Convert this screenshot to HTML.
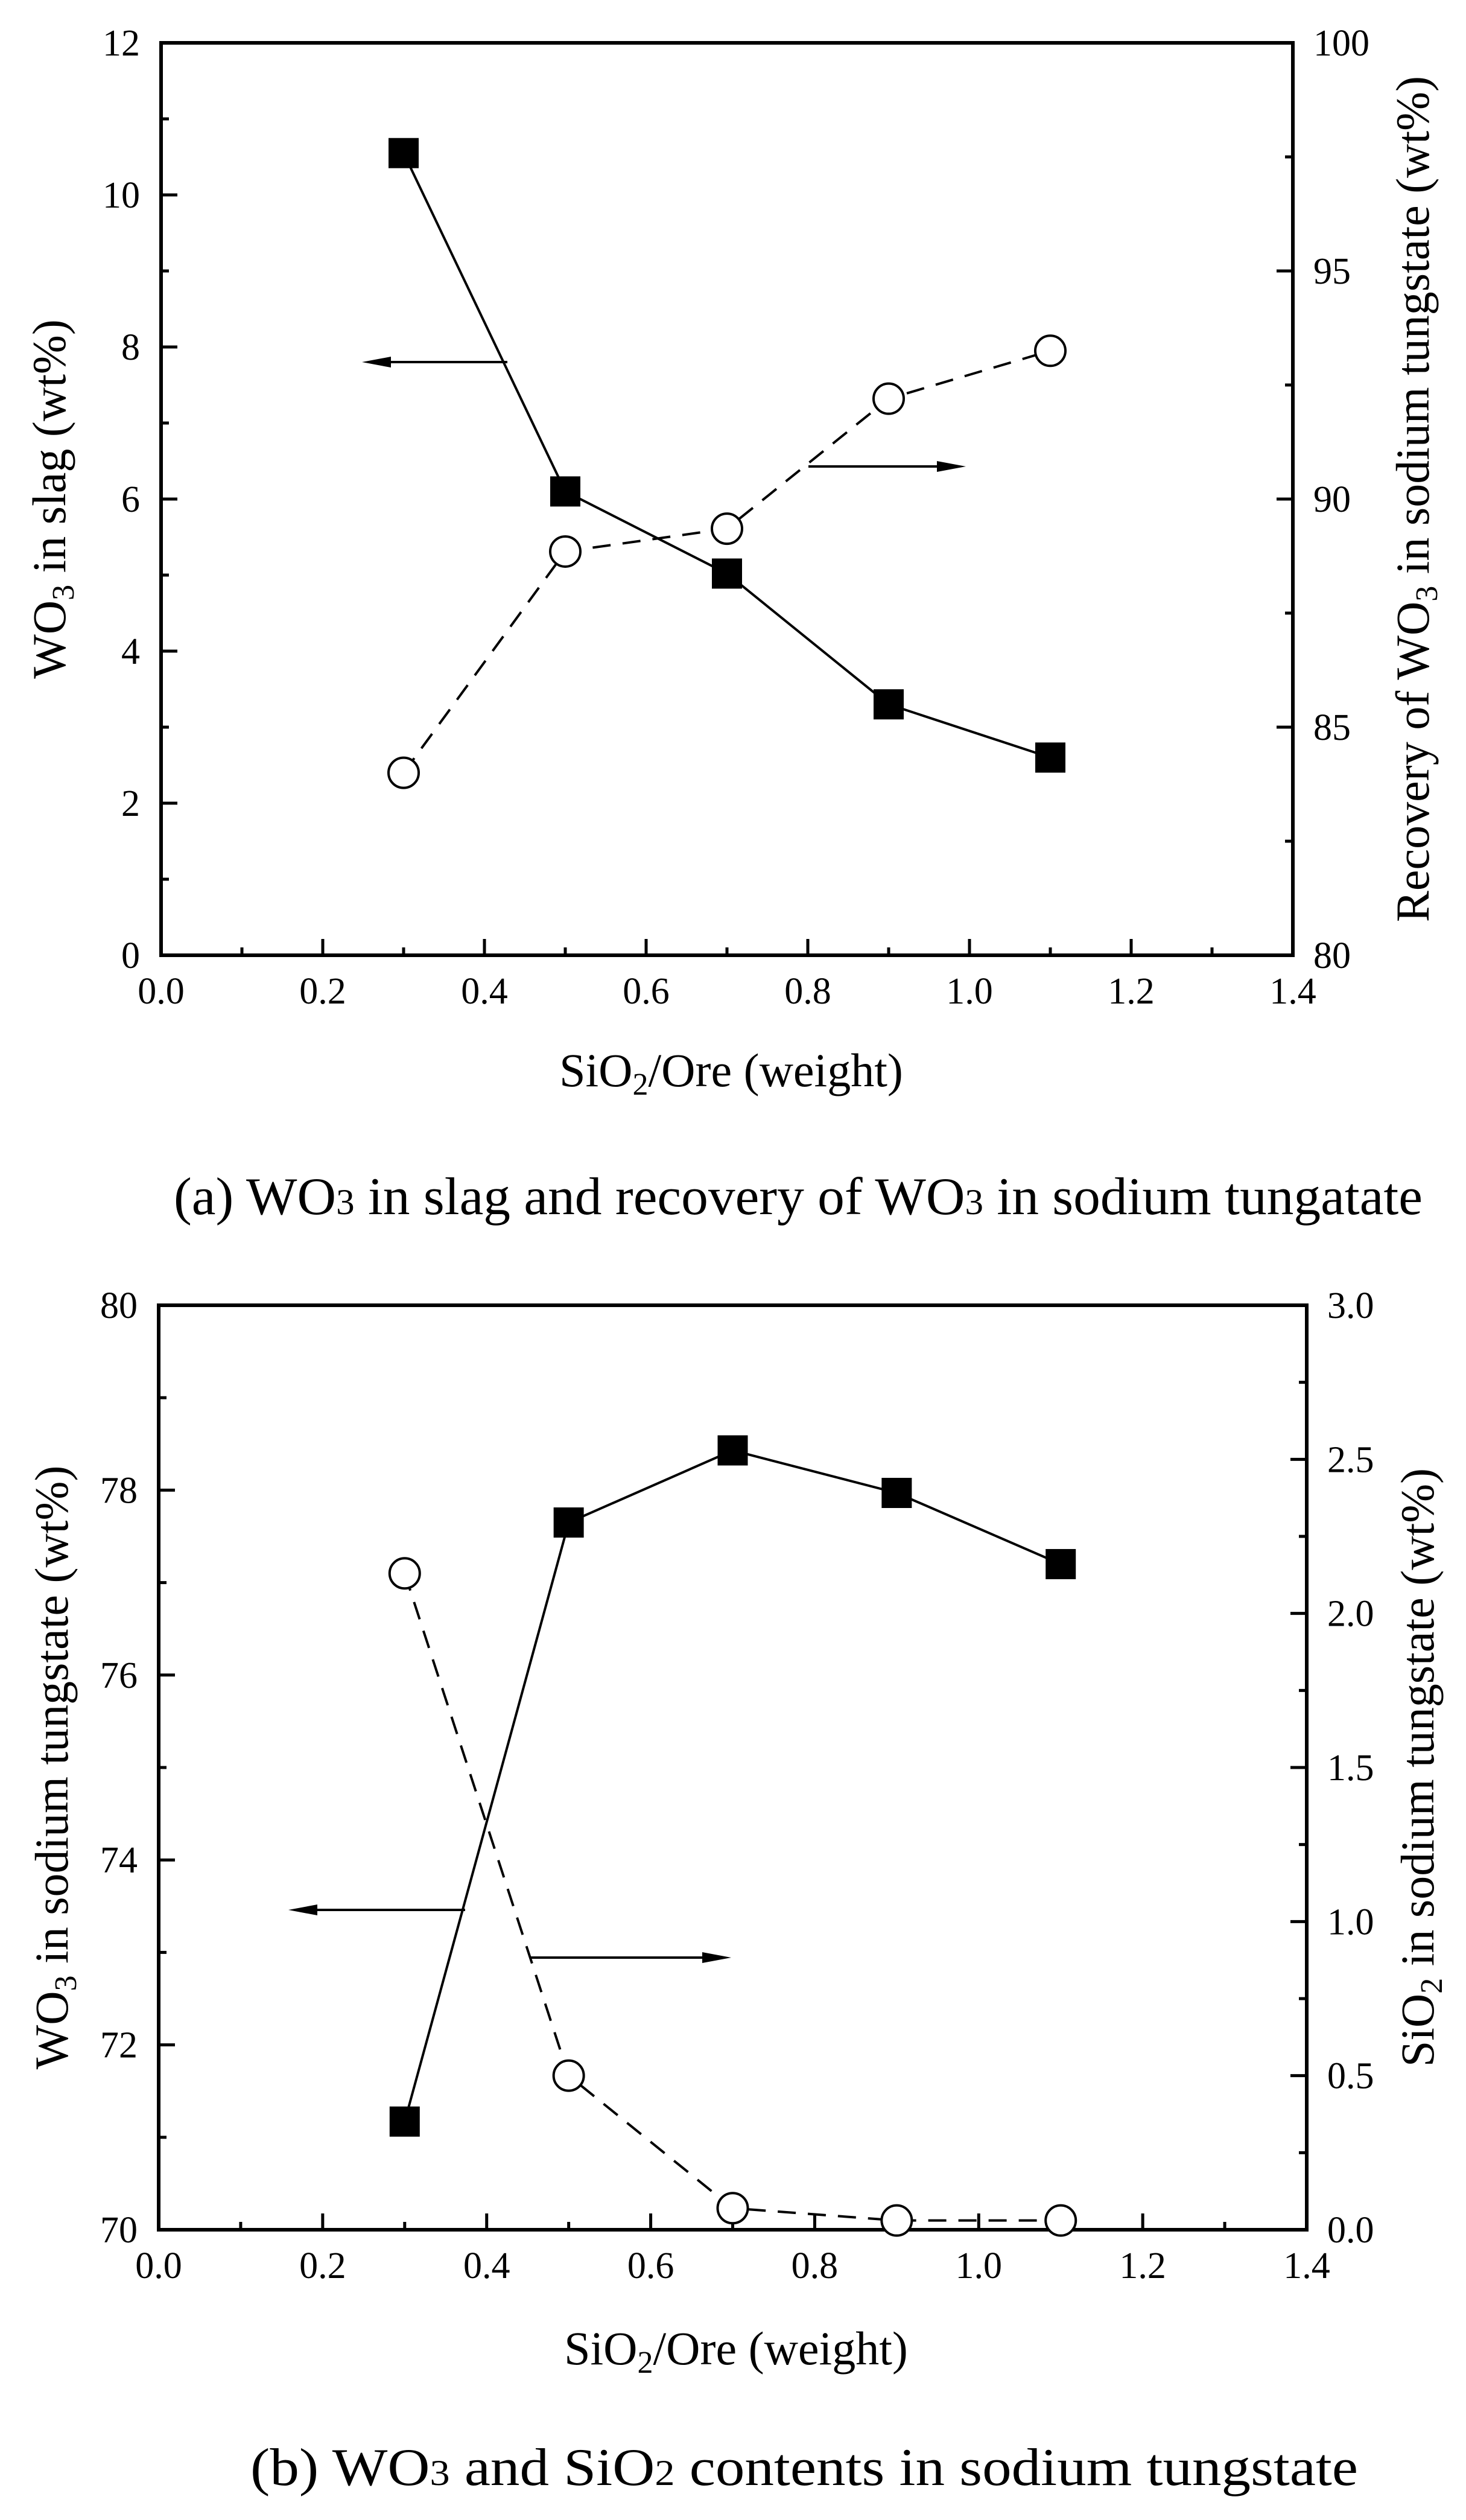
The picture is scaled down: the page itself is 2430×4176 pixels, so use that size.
<!DOCTYPE html>
<html><head><meta charset="utf-8"><style>
html,body{margin:0;padding:0;background:#fff;}
svg{display:block;font-family:"Liberation Serif",serif;}
</style></head><body>
<svg id="fig" width="2430" height="4176" viewBox="0 0 2430 4176" xmlns="http://www.w3.org/2000/svg">
<rect x="0" y="0" width="2430" height="4176" fill="#fff"/>
<text x="288" y="2012" font-size="88" textLength="2070" lengthAdjust="spacingAndGlyphs">(a)  WO<tspan font-size="60">3</tspan> in slag and recovery of WO<tspan font-size="60">3</tspan> in sodium tungatate</text>
<text x="415" y="4118" font-size="88" textLength="1836" lengthAdjust="spacingAndGlyphs">(b)  WO<tspan font-size="60">3</tspan> and SiO<tspan font-size="60">2</tspan> contents in sodium tungstate</text>
</svg>
<script>
// ---- Chart (a) data ----
const xValsA = [0.3, 0.5, 0.7, 0.9, 1.1];
const slagWO3 = [10.55, 6.1, 5.02, 3.3, 2.6];
const recoveryWO3 = [84.0, 88.85, 89.35, 92.2, 93.25];
const xTicksA = ["0.0","0.2","0.4","0.6","0.8","1.0","1.2","1.4"];
const yLeftTicksA = ["0","2","4","6","8","10","12"];
const yRightTicksA = ["80","85","90","95","100"];
// ---- Chart (b) data ----
const xValsB = [0.3, 0.5, 0.7, 0.9, 1.1];
const tungstateWO3 = [71.17, 77.65, 78.43, 77.97, 77.2];
const tungstateSiO2 = [2.13, 0.5, 0.07, 0.03, 0.03];
const xTicksB = ["0.0","0.2","0.4","0.6","0.8","1.0","1.2","1.4"];
const yLeftTicksB = ["70","72","74","76","78","80"];
const yRightTicksB = ["0.0","0.5","1.0","1.5","2.0","2.5","3.0"];

const NS = "http://www.w3.org/2000/svg";
const svg = document.getElementById("fig");
function mk(tag, attrs, parent, txt){
  const e = document.createElementNS(NS, tag);
  for (const k in attrs) e.setAttribute(k, attrs[k]);
  if (txt !== undefined) e.textContent = txt;
  (parent||svg).appendChild(e);
  return e;
}

function drawChart(cfg){
  const g = mk("g", {});
  
  
  const {L,R,T,B} = cfg;
  const sx = v => L + (v - 0) / 1.4 * (R - L);
  const syL = v => B - (v - cfg.yl[0]) / (cfg.yl[1]-cfg.yl[0]) * (B - T);
  const syR = v => B - (v - cfg.yr[0]) / (cfg.yr[1]-cfg.yr[0]) * (B - T);

  const frame = mk("rect", {x:L, y:T, width:R-L, height:B-T, fill:"none", stroke:"#000", "stroke-width":6}, g);
  
  

  // x ticks
  const xt = mk("g", {}, g);
  
  
  for (let i=0;i<=14;i++){
    const x = sx(i*0.1), major = i%2===0;
    mk("line",{x1:x,x2:x,y1:B,y2:B-(major?27:13),stroke:"#000","stroke-width":5},xt);
  }
  cfg.xTicks.forEach(lbl=>{
    const t = mk("text",{x:sx(parseFloat(lbl)),y:cfg.xLabY,"font-size":62,"text-anchor":"middle"},xt,lbl);
    
    
  });
  // left ticks
  const yl = mk("g", {}, g);
  
  
  const lv = cfg.yLeftTicks.map(parseFloat);
  const lstep = lv[1]-lv[0];
  for (let v=lv[0]; v<=lv[lv.length-1]+1e-9; v+=lstep/2){
    const y = syL(v), major = Math.abs(((v-lv[0])/lstep) - Math.round((v-lv[0])/lstep))<1e-6;
    mk("line",{x1:L,x2:L+(major?27:13),y1:y,y2:y,stroke:"#000","stroke-width":5},yl);
  }
  cfg.yLeftTicks.forEach(lbl=>{
    const t = mk("text",{x:L-35,y:syL(parseFloat(lbl))+21,"font-size":62,"text-anchor":"end"},yl,lbl);
    
    
  });
  // right ticks
  const yr = mk("g", {}, g);
  
  
  const rv = cfg.yRightTicks.map(parseFloat);
  const rstep = rv[1]-rv[0];
  for (let k=0; k<=(rv.length-1)*2; k++){
    const v = rv[0] + k*rstep/2, y = syR(v), major = k%2===0;
    mk("line",{x1:R,x2:R-(major?27:13),y1:y,y2:y,stroke:"#000","stroke-width":5},yr);
  }
  cfg.yRightTicks.forEach(lbl=>{
    const t = mk("text",{x:R+cfg.rLabGap,y:syR(parseFloat(lbl))+21,"font-size":62,"text-anchor":"start"},yr,lbl);
    
    
  });
  // titles
  const xtTitle = mk("text",{x:cfg.xTitleX,y:cfg.xTitleY,"font-size":78,"text-anchor":"middle"},g);
  xtTitle.innerHTML = 'SiO<tspan font-size="52" dy="14">2</tspan><tspan dy="-14">/Ore (weight)</tspan>';
  
  
  const cy = (T+B)/2;
  const ylt = mk("text",{x:0,y:0,"font-size":78,"text-anchor":"middle",transform:`translate(${cfg.ylTitleX},${cy}) rotate(-90)`},g);
  ylt.innerHTML = cfg.ylTitle;
  
  
  const yrt = mk("text",{x:0,y:0,"font-size":78,"text-anchor":"middle",transform:`translate(${cfg.yrTitleX},${cy}) rotate(-90)`},g);
  yrt.innerHTML = cfg.yrTitle;
  
  

  // dashed circle series (right axis)
  const cPts = cfg.xs.map((x,i)=>[sx(x), syR(cfg.circ[i])]);
  const dl = mk("polyline",{points:cPts.map(p=>p.join(",")).join(" "),fill:"none",stroke:"#000","stroke-width":4,"stroke-dasharray":"30 20"},g);
  
  
  cPts.forEach(p=>{
    const c = mk("circle",{cx:p[0],cy:p[1],r:25,fill:"#fff",stroke:"#000","stroke-width":4},g);
    
    
  });
  // solid square series (left axis)
  const sPts = cfg.xs.map((x,i)=>[sx(x), syL(cfg.sq[i])]);
  const sl = mk("polyline",{points:sPts.map(p=>p.join(",")).join(" "),fill:"none",stroke:"#000","stroke-width":4},g);
  
  
  sPts.forEach(p=>{
    const s = mk("rect",{x:p[0]-25,y:p[1]-25,width:50,height:50,fill:"#000"},g);
    
    
  });
  // arrows
  cfg.arrows.forEach(a=>{
    const ag = mk("g",{},g);
    
    
    const tipX = a.x2, d = a.dir;
    mk("line",{x1:a.x1,x2:tipX - d*40,y1:a.y,y2:a.y,stroke:"#000","stroke-width":4},ag);
    mk("polygon",{points:`${tipX},${a.y} ${tipX-d*48},${a.y-9} ${tipX-d*48},${a.y+9}`,fill:"#000"},ag);
  });
}

drawChart({
  name:"chart-a", L:267, R:2143, T:71, B:1583, yl:[0,12], yr:[80,100],
  xTicks:xTicksA, yLeftTicks:yLeftTicksA, yRightTicks:yRightTicksA,
  xLabY:1663, rLabGap:34, xTitleX:1212, xTitleY:1800,
  ylTitleX:108, yrTitleX:2368,
  ylTitle:'WO<tspan font-size="52" dy="14">3</tspan><tspan dy="-14"> in slag (wt%)</tspan>',
  yrTitle:'Recovery of WO<tspan font-size="52" dy="14">3</tspan><tspan dy="-14"> in sodium tungstate (wt%)</tspan>',
  xs:xValsA, sq:slagWO3, circ:recoveryWO3,
  arrows:[{x1:841,x2:600,y:600,dir:-1},{x1:1340,x2:1601,y:773,dir:1}]
});
drawChart({
  name:"chart-b", L:263, R:2166, T:2163, B:3695, yl:[70,80], yr:[0,3],
  xTicks:xTicksB, yLeftTicks:yLeftTicksB, yRightTicks:yRightTicksB,
  xLabY:3775, rLabGap:34, xTitleX:1220, xTitleY:3918,
  ylTitleX:112, yrTitleX:2376,
  ylTitle:'WO<tspan font-size="52" dy="14">3</tspan><tspan dy="-14"> in sodium tungstate (wt%)</tspan>',
  yrTitle:'SiO<tspan font-size="52" dy="14">2</tspan><tspan dy="-14"> in sodium tungstate (wt%)</tspan>',
  xs:xValsB, sq:tungstateWO3, circ:tungstateSiO2,
  arrows:[{x1:771,x2:478,y:3165,dir:-1},{x1:880,x2:1212,y:3244,dir:1}]
});
</script>
</body></html>
